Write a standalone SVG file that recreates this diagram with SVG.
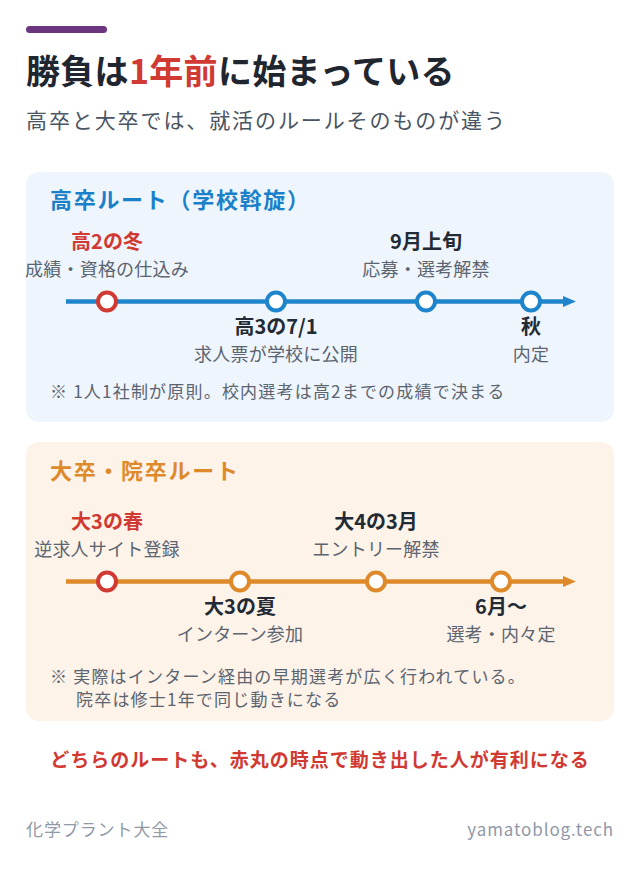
<svg xmlns="http://www.w3.org/2000/svg" width="640" height="870" viewBox="0 0 640 870">
<style>
text{font-family:"Noto Sans CJK JP","Noto Sans",sans-serif;}
.title{font-size:34px;font-weight:700;fill:#1f2630;letter-spacing:0.3px;}
.sub{font-size:21px;fill:#4a5563;letter-spacing:1.9px;}
.ctitle{font-size:22px;font-weight:700;letter-spacing:1.7px;}
.lbl{font-size:20px;font-weight:700;fill:#222a35;text-anchor:middle;}
.desc{font-size:18px;fill:#5b6470;text-anchor:middle;letter-spacing:0.2px;}
.note{font-size:17px;fill:#5b6470;letter-spacing:1.2px;}
.foot{font-size:17px;fill:#8f99a8;letter-spacing:0.9px;}
.red{fill:#d03a33;}
.dotb{fill:#fff;stroke:#1e84cb;stroke-width:4;}
.doto{fill:#fff;stroke:#de8a2a;stroke-width:4;}
.dotr{fill:#fff;stroke:#d03a33;stroke-width:4;}
</style>
<rect width="640" height="870" fill="#ffffff"/>
<rect x="26" y="26" width="81" height="7" rx="3.5" fill="#6b3580"/>
<text class="title" x="26" y="84">勝負は<tspan class="red">1年前</tspan>に始まっている</text>
<text class="sub" x="26" y="128">高卒と大卒では、就活のルールそのものが違う</text>

<g id="card-koukou">
<rect x="26" y="172" width="588" height="250" rx="13" fill="#eef5fc"/>
<text class="ctitle" x="50" y="208" fill="#1a80c9">高卒ルート（学校斡旋）</text>
<text class="note" x="50" y="398">※ 1人1社制が原則。校内選考は高2までの成績で決まる</text>
</g>
<g id="card-daisotsu">
<rect x="26" y="442" width="588" height="279" rx="13" fill="#fdf3e8"/>
<text class="ctitle" x="50" y="479" fill="#de8a2a">大卒・院卒ルート</text>
<text class="note" x="50" y="683">※ 実際はインターン経由の早期選考が広く行われている。</text>
<text class="note" x="76" y="706">院卒は修士1年で同じ動きになる</text>
</g>

<g id="connectors">
<line x1="66" y1="301.5" x2="565" y2="301.5" stroke="#1e84cb" stroke-width="4.5"/>
<polygon points="563,296 576,301.5 563,307" fill="#1e84cb"/>
<line x1="66" y1="581.5" x2="565" y2="581.5" stroke="#de8a2a" stroke-width="4.5"/>
<polygon points="563,576 576,581.5 563,587" fill="#de8a2a"/>
</g>

<g id="k1"><circle class="dotr" cx="107" cy="301.5" r="9"/>
<text class="lbl red" x="107" y="249">高2の冬</text>
<text class="desc" x="107" y="276">成績・資格の仕込み</text></g>
<g id="k2"><circle class="dotb" cx="276" cy="301.5" r="9"/>
<text class="lbl" x="276" y="334">高3の7/1</text>
<text class="desc" x="276" y="361">求人票が学校に公開</text></g>
<g id="k3"><circle class="dotb" cx="426" cy="301.5" r="9"/>
<text class="lbl" x="426" y="249">9月上旬</text>
<text class="desc" x="426" y="276">応募・選考解禁</text></g>
<g id="k4"><circle class="dotb" cx="531" cy="301.5" r="9"/>
<text class="lbl" x="531" y="334">秋</text>
<text class="desc" x="531" y="361">内定</text></g>

<g id="d1"><circle class="dotr" cx="107" cy="581.5" r="9"/>
<text class="lbl red" x="107" y="529">大3の春</text>
<text class="desc" x="107" y="556">逆求人サイト登録</text></g>
<g id="d2"><circle class="doto" cx="240" cy="581.5" r="9"/>
<text class="lbl" x="240" y="614">大3の夏</text>
<text class="desc" x="240" y="641">インターン参加</text></g>
<g id="d3"><circle class="doto" cx="376" cy="581.5" r="9"/>
<text class="lbl" x="376" y="529">大4の3月</text>
<text class="desc" x="376" y="556">エントリー解禁</text></g>
<g id="d4"><circle class="doto" cx="501" cy="581.5" r="9"/>
<text class="lbl" x="501" y="614">6月〜</text>
<text class="desc" x="501" y="641">選考・内々定</text></g>

<text x="320" y="767" text-anchor="middle" font-size="19" font-weight="700" fill="#d03a33" letter-spacing="1" style="font-family:'Noto Sans CJK JP',sans-serif">どちらのルートも、赤丸の時点で動き出した人が有利になる</text>
<text class="foot" x="26" y="836">化学プラント大全</text>
<text class="foot" x="614" y="836" text-anchor="end">yamatoblog.tech</text>
</svg>
